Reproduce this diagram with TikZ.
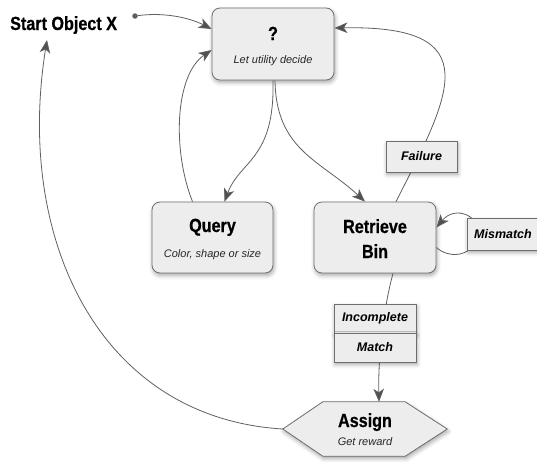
\documentclass[tikz,border=0pt]{standalone}
\usepackage{fontspec}
\usetikzlibrary{arrows.meta,calc,shadows.blur}
\newfontfamily\titlefont[FakeStretch=0.85,FakeBold=0.6]{Liberation Sans}
\newfontfamily\labfont{Liberation Sans}
\definecolor{boxfill}{RGB}{237,237,237}
\definecolor{boxline}{RGB}{110,110,110}
\definecolor{lineclr}{RGB}{95,95,95}
\definecolor{tipclr}{RGB}{80,80,80}
\tikzset{
  shad/.style={blur shadow={shadow xshift=1pt, shadow yshift=-2.5pt, shadow blur radius=4pt, shadow opacity=35}},
  box/.style={draw=boxline, fill=boxfill, rounded corners=8pt, line width=0.8pt, inner sep=0, shad},
  lab/.style={draw=boxline, fill=boxfill, line width=0.8pt, shad,
    font=\labfont\bfseries\itshape\fontsize{12.5}{14}\selectfont},
  title/.style={inner sep=0, font=\titlefont\bfseries\fontsize{19}{22}\selectfont},
  sub/.style={inner sep=0, text=black!85, font=\labfont\itshape\fontsize{11}{13}\selectfont},
  conn/.style={draw=lineclr, line width=0.8pt, -{Stealth[length=13pt,width=10.5pt,inset=3.5pt,fill=tipclr]}},
}
\begin{document}
\begin{tikzpicture}[x=1pt,y=-1pt]
\useasboundingbox (0,0) rectangle (537,461);
\clip (0,0) rectangle (537,461);

% start
\node[title, anchor=base west] (start) at (10,30) {Start Object X};
\node[circle, fill=lineclr, inner sep=0, minimum size=5.5] (dot) at (135,16) {};

% main boxes
\node[box, minimum width=122, minimum height=72] (q) at (273,44) {};
\node[title, anchor=base] (qt) at (273,40) {?};
\node[sub, anchor=base] (qs) at (273,63) {Let utility decide};

\node[box, minimum width=121, minimum height=71] (query) at (212.5,237.5) {};
\node[title, anchor=base] (queryt) at (212.5,232) {Query};
\node[sub, anchor=base] (querys) at (212.5,257) {Color, shape or size};

\node[box, minimum width=122, minimum height=71] (ret) at (375,237.5) {};
\node[title, anchor=base] (rett) at (375,233) {Retrieve};
\node[title, anchor=base] (rets) at (375,258) {Bin};

\node[inner sep=0, minimum width=164, minimum height=54] (asg) at (365,429) {};
\path[draw=boxline, fill=boxfill, line width=0.8pt, shad]
  (asg.west) -- ($(asg.north west)+(40,0)$) -- ($(asg.north east)+(-42,0)$)
  -- (asg.east) -- ($(asg.south east)+(-42,0)$) -- ($(asg.south west)+(40,0)$) -- cycle;
\node[title, anchor=base] (asgt) at (365,427) {Assign};
\node[sub, anchor=base] (asgs) at (365,445) {Get reward};

% connectors
\draw[conn] (dot) .. controls (165,12) and (190,18) .. ($(q.west)+(0,-15)$);
\draw[conn] ($(query.north)+(-20,0)$) .. controls (172,150) and (175,75) .. ($(q.west)+(0,6)$);
\draw[conn] ($(q.south)+(0,0)$) .. controls (275,160) and (240,160) .. ($(query.north)+(12,0)$);
\draw[conn] ($(q.south)+(2,0)$) .. controls (276,150) and (320,160) .. ($(ret.north)+(-10,0)$);
\draw[conn] ($(ret.north)+(21,0)$) .. controls (450,95) and (490,25) .. ($(q.east)+(0,-16)$);
\draw[conn] ($(ret.east)+(0,10)$) .. controls (448,258) and (470,258) .. (478,238)
  .. controls (482,215) and (455,205) .. ($(ret.east)+(0,-10)$);
\draw[conn] ($(ret.south)+(18,0)$) .. controls (383,310) and (378,360) .. ($(asg.north)+(14,0)$);
\draw[conn] (asg.west) .. controls (100,418) and (15,240) .. ($(start.base west)+(37,10)$);

% labels
\node[lab, minimum width=71, minimum height=31] (fail) at (421.5,156.5) {Failure};
\node[lab, minimum width=72, minimum height=32] (mis) at (503,234) {Mismatch};
\node[lab, minimum width=82, minimum height=29] (inc) at (375,318.5) {Incomplete};
\node[lab, minimum width=82, minimum height=29] (mat) at (375,347.5) {Match};
\end{tikzpicture}
\end{document}
